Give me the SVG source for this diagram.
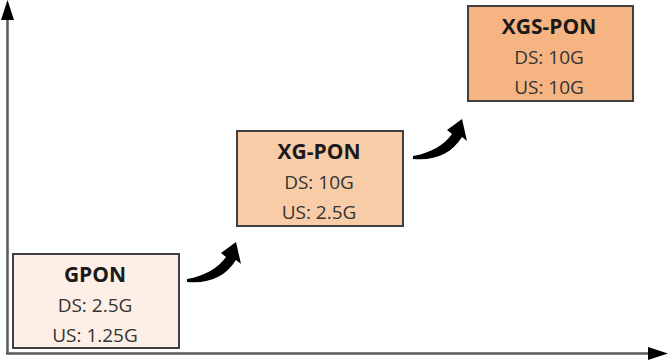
<svg xmlns="http://www.w3.org/2000/svg" width="669" height="361" viewBox="0 0 669 361">
<style>
.box{stroke:#404040;stroke-width:2}
.t{font-family:"Open Sans","DejaVu Sans",sans-serif;text-anchor:middle;fill:#1a1a1a}
.h{font-size:21px;font-weight:bold}
.r{font-size:19px;fill:#333}
.ax{stroke:#5a5a5a;stroke-width:2.5;fill:none}
</style>
<rect width="669" height="361" fill="#fff"/>
<g id="axes">
<line class="ax" x1="7.5" y1="354" x2="7.5" y2="18"/>
<polygon points="7.5,0 1,20 14,20" fill="#000"/>
<line class="ax" x1="6" y1="353.5" x2="650" y2="353.5"/>
<polygon points="668,353.5 648,347 648,360" fill="#000"/>
</g>
<g id="gpon">
<rect class="box" x="13" y="254" width="166" height="94" fill="#FDEFE5"/>
<text class="t h" x="95" y="282">GPON</text>
<text class="t r" x="95" y="312">DS: 2.5G</text>
<text class="t r" x="95" y="342">US: 1.25G</text>
</g>
<g id="xgpon">
<rect class="box" x="237" y="131" width="166" height="95" fill="#F9CCA8"/>
<text class="t h" x="319" y="159">XG-PON</text>
<text class="t r" x="319" y="189">DS: 10G</text>
<text class="t r" x="319" y="219">US: 2.5G</text>
</g>
<g id="xgspon">
<rect class="box" x="468" y="6" width="165" height="95" fill="#F6B482"/>
<text class="t h" x="549" y="34">XGS-PON</text>
<text class="t r" x="549" y="64">DS: 10G</text>
<text class="t r" x="549" y="94">US: 10G</text>
</g>
<g id="connectors">
<path d="M187,279 C205,276 218,268 226,257 L221,253 L236,242 L241,264 L236,260 C226,276 210,284 187,282 Z" fill="#000"/>
<path d="M187,279 C205,276 218,268 226,257 L221,253 L236,242 L241,264 L236,260 C226,276 210,284 187,282 Z" fill="#000" transform="translate(226,-123)"/>
</g>
</svg>
